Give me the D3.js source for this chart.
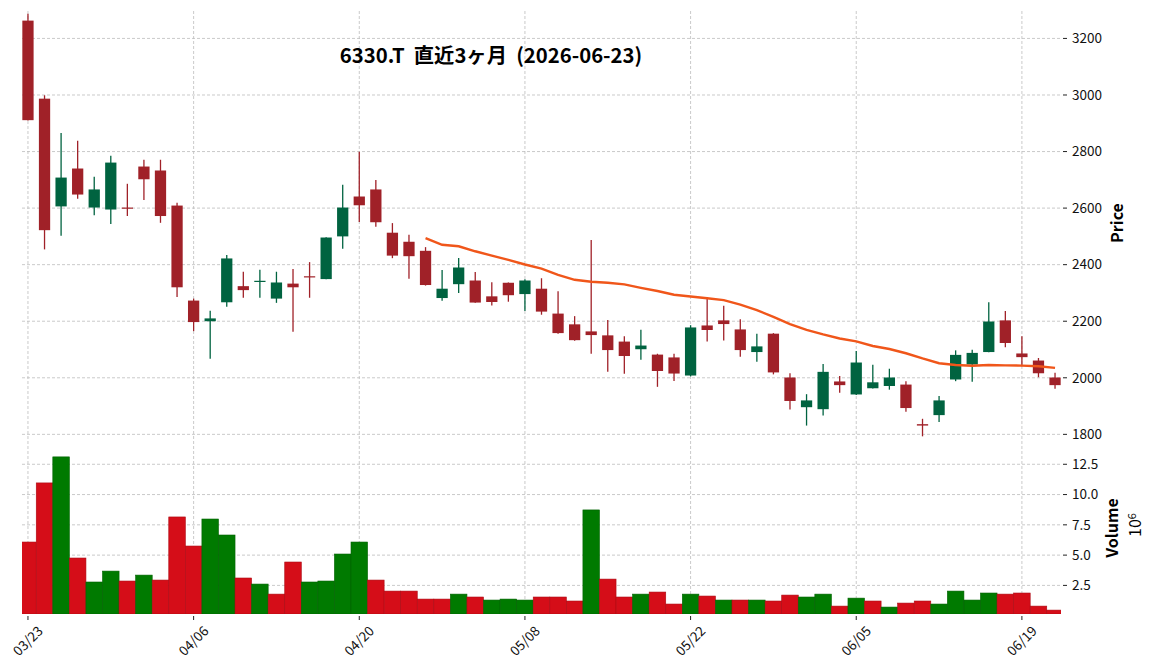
<!DOCTYPE html>
<html>
<head>
<meta charset="utf-8">
<script src="https://cdn.jsdelivr.net/npm/d3@7"></script>
<style>
  body { margin: 0; background: #fff; }
  svg { font-family: "Noto Sans CJK JP", "Noto Sans", sans-serif; }
</style>
</head>
<body>
<script>
var width = 1156,
    height = 670;

var dates = ["03/23","03/24","03/25","03/26","03/27","03/30","03/31","04/01","04/02","04/03",
  "04/06","04/07","04/08","04/09","04/10","04/13","04/14","04/15","04/16","04/17",
  "04/20","04/21","04/22","04/23","04/24","04/27","04/28","04/30","05/01","05/07",
  "05/08","05/11","05/12","05/13","05/14","05/15","05/18","05/19","05/20","05/21",
  "05/22","05/25","05/26","05/27","05/28","05/29","06/01","06/02","06/03","06/04",
  "06/05","06/08","06/09","06/10","06/11","06/12","06/15","06/16","06/17","06/18",
  "06/19","06/22","06/23"];

var opens = [3263,2987,2606,2740,2602,2595,2602,2747,2733,2609,
  2273,2200,2267,2324,2340,2280,2333,2359,2349,2500,
  2641,2666,2513,2481,2449,2282,2331,2344,2288,2336,
  2296,2315,2227,2189,2164,2150,2128,2101,2082,2072,
  2008,2185,2203,2171,2091,2156,2001,1896,1889,1987,
  1941,1963,1971,1976,1836,1868,1994,2047,2091,2203,
  2086,2061,2001];
var highs = [3287,2999,2866,2838,2711,2785,2686,2771,2771,2619,
  2280,2237,2434,2375,2382,2375,2385,2409,2497,2683,
  2799,2699,2547,2506,2462,2381,2424,2374,2338,2337,
  2348,2352,2306,2218,2487,2204,2147,2170,2085,2085,
  2186,2282,2255,2207,2156,2158,2016,1942,2049,2006,
  2095,2046,2032,1988,1855,1936,2097,2099,2267,2236,
  2147,2070,2018];
var lows = [2910,2454,2502,2633,2575,2544,2572,2629,2548,2286,
  2165,2067,2251,2283,2283,2265,2163,2283,2348,2456,
  2551,2534,2423,2350,2326,2272,2300,2265,2256,2269,
  2236,2223,2156,2131,2085,2021,2014,2064,1968,1989,
  2005,2128,2132,2074,2057,2012,1888,1831,1867,1947,
  1939,1962,1958,1880,1793,1844,1988,1986,2090,2108,
  2041,2002,1961];
var closes = [2911,2522,2708,2648,2666,2761,2600,2702,2572,2320,
  2197,2210,2422,2310,2343,2337,2320,2357,2496,2602,
  2610,2550,2432,2430,2328,2315,2390,2266,2268,2292,
  2344,2234,2158,2133,2151,2098,2077,2114,2024,2015,
  2178,2169,2190,2098,2111,2019,1918,1920,2021,1974,
  2054,1984,2001,1893,1831,1920,2081,2088,2199,2123,
  2073,2016,1974];
// volume in millions of shares
var volumes = [6.08,10.96,13.11,4.76,2.78,3.68,2.86,3.35,2.94,8.15,
  5.75,7.98,6.66,3.11,2.61,1.78,4.43,2.78,2.86,5.09,
  6.08,2.94,2.03,2.03,1.37,1.37,1.78,1.54,1.29,1.37,
  1.29,1.54,1.54,1.21,8.73,3.02,1.54,1.78,1.95,0.96,
  1.78,1.62,1.29,1.29,1.29,1.21,1.70,1.54,1.78,0.79,
  1.45,1.21,0.71,1.04,1.21,0.96,2.03,1.29,1.87,1.78,
  1.87,0.79,0.46];

var priceTicks = [1800,2000,2200,2400,2600,2800,3000,3200];
var volumeTicks = [2.5,5.0,7.5,10.0,12.5];
var xTickIdx = [0,10,20,30,40,50,60];
var maPeriod = 25;
var title = "6330.T  直近3ヶ月  (2026-06-23)";

var colUp = "#006340", colDown = "#a02128",
    volUp = "#007a00", volDown = "#d50d18",
    maColor = "#f0561a", gridColor = "#bdbdbd";

var left = 22, right = 1061,
    pTop = 11, pBottom = 440,
    vTop = 441, vBottom = 614;

var n = closes.length;
var idx = d3.range(n);

var x = d3.scaleLinear().domain([-0.36, n - 1 + 0.36]).range([left, right]);
var step = x(1) - x(0);
var yP = d3.scaleLinear().domain([1780, 3297]).range([pBottom, pTop]);
var yV = d3.scaleLinear()
  .domain([0.3 * d3.min(volumes), 1.1 * d3.max(volumes)])
  .range([vBottom, vTop]);

var svg = d3.select("body").append("svg")
    .attr("width", width)
    .attr("height", height);

svg.append("defs").append("clipPath").attr("id", "pclip")
  .append("rect").attr("x", left).attr("y", pTop).attr("width", right - left).attr("height", pBottom - pTop);
svg.select("defs").append("clipPath").attr("id", "vclip")
  .append("rect").attr("x", left).attr("y", vTop).attr("width", right - left).attr("height", vBottom - vTop);

// grid
var grid = svg.append("g")
  .attr("stroke", gridColor).attr("stroke-width", 0.8).attr("stroke-dasharray", "3,2");
grid.selectAll(".hp").data(priceTicks).enter().append("line")
  .attr("x1", left).attr("x2", right)
  .attr("y1", function(d) { return yP(d); }).attr("y2", function(d) { return yP(d); });
grid.selectAll(".hv").data(volumeTicks).enter().append("line")
  .attr("x1", left).attr("x2", right)
  .attr("y1", function(d) { return yV(d); }).attr("y2", function(d) { return yV(d); });
grid.selectAll(".vp").data(xTickIdx).enter().append("line")
  .attr("x1", function(d) { return x(d); }).attr("x2", function(d) { return x(d); })
  .attr("y1", pTop).attr("y2", pBottom);
grid.selectAll(".vv").data(xTickIdx).enter().append("line")
  .attr("x1", function(d) { return x(d); }).attr("x2", function(d) { return x(d); })
  .attr("y1", vTop).attr("y2", vBottom);

// candles
var cw = step * 0.68;
var cg = svg.append("g").attr("clip-path", "url(#pclip)");
var candle = cg.selectAll("g.c").data(idx).enter().append("g");
candle.append("line")
  .attr("x1", function(i) { return x(i); }).attr("x2", function(i) { return x(i); })
  .attr("y1", function(i) { return yP(highs[i]); })
  .attr("y2", function(i) { return yP(lows[i]); })
  .attr("stroke", function(i) { return closes[i] >= opens[i] ? colUp : colDown; })
  .attr("stroke-width", 1.3);
candle.append("rect")
  .attr("x", function(i) { return x(i) - cw / 2; })
  .attr("width", cw)
  .attr("y", function(i) { return yP(Math.max(opens[i], closes[i])); })
  .attr("height", function(i) { return Math.max(1.2, Math.abs(yP(opens[i]) - yP(closes[i]))); })
  .attr("fill", function(i) { return closes[i] >= opens[i] ? colUp : colDown; });

// moving average
var ma = idx.map(function(i) {
  return i < maPeriod - 1 ? null : d3.mean(closes.slice(i - maPeriod + 1, i + 1));
});
cg.append("path")
  .datum(idx.filter(function(i) { return ma[i] !== null; }))
  .attr("fill", "none")
  .attr("stroke", maColor)
  .attr("stroke-width", 2.4)
  .attr("d", d3.line().x(function(i) { return x(i); }).y(function(i) { return yP(ma[i]); }));

// volume
var vg = svg.append("g").attr("clip-path", "url(#vclip)");
function volColor(i) {
  var up = i === 0 ? closes[0] >= opens[0] : closes[i] > closes[i - 1];
  return up ? volUp : volDown;
}
vg.selectAll("rect").data(idx).enter().append("rect")
  .attr("x", function(i) { return x(i) - step / 2; })
  .attr("width", step)
  .attr("y", function(i) { return yV(volumes[i]); })
  .attr("height", function(i) { return vBottom - yV(volumes[i]); })
  .attr("fill", volColor)
  .attr("stroke", function(i) { return d3.color(volColor(i)).darker(0.6); })
  .attr("stroke-width", 0.6);

// right axes
var ax = svg.append("g").attr("font-size", "13.5px").attr("fill", "#111");
function rightTicks(ticks, scale, fmt) {
  ticks.forEach(function(t) {
    ax.append("line").attr("x1", right + 2).attr("x2", right + 6)
      .attr("y1", scale(t)).attr("y2", scale(t)).attr("stroke", "#222").attr("stroke-width", 1);
    ax.append("text").attr("x", right + 11).attr("y", scale(t))
      .attr("dy", "0.35em").text(fmt(t));
  });
}
rightTicks(priceTicks, yP, d3.format("d"));
rightTicks(volumeTicks, yV, d3.format(".1f"));

// x axis ticks
xTickIdx.forEach(function(i) {
  ax.append("line").attr("x1", x(i)).attr("x2", x(i))
    .attr("y1", vBottom + 2).attr("y2", vBottom + 6).attr("stroke", "#222");
  ax.append("text")
    .attr("transform", "translate(" + x(i) + "," + (vBottom + 27) + ") rotate(-45)")
    .attr("text-anchor", "middle")
    .attr("dy", "0.35em")
    .text(dates[i]);
});

// labels
svg.append("text").attr("transform", "translate(1123,223) rotate(-90)")
  .attr("text-anchor", "middle").attr("font-weight", "bold").attr("font-size", "16px")
  .text("Price");
svg.append("text").attr("transform", "translate(1118,528) rotate(-90)")
  .attr("text-anchor", "middle").attr("font-weight", "bold").attr("font-size", "16px")
  .text("Volume");
var off = svg.append("text").attr("transform", "translate(1141,525) rotate(-90)")
  .attr("text-anchor", "middle").attr("font-size", "16px");
off.append("tspan").text("10");
off.append("tspan").attr("dy", "-0.5em").attr("font-size", "11px").text("6");

svg.append("text").attr("x", 491).attr("y", 63)
  .attr("text-anchor", "middle").attr("font-weight", "bold").attr("font-size", "20.3px")
  .style("white-space", "pre")
  .text(title);
</script>
</body>
</html>
